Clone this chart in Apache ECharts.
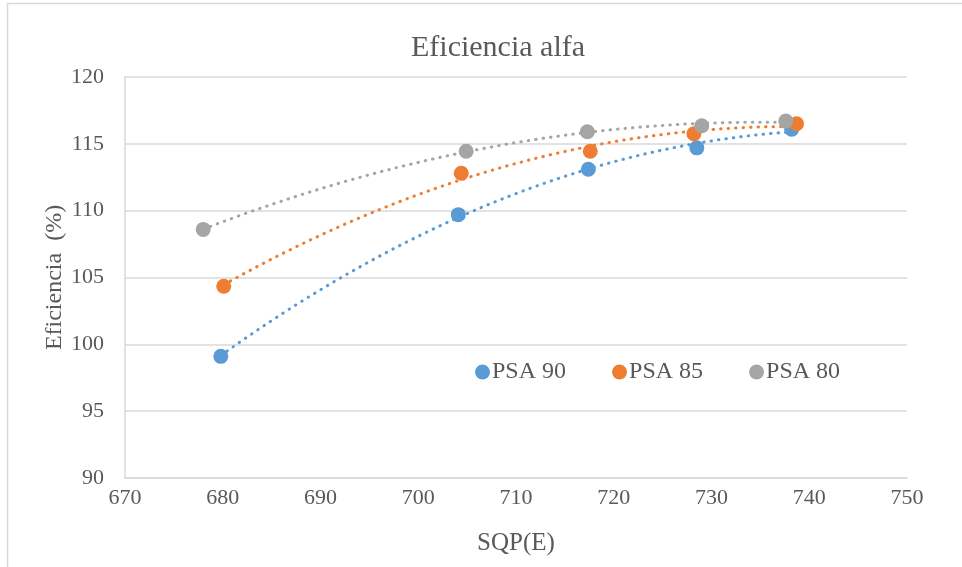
<!DOCTYPE html>
<html>
<head>
<meta charset="utf-8">
<script src="https://cdn.jsdelivr.net/npm/echarts@6/dist/echarts.min.js"></script>
<style>
  html, body { margin: 0; padding: 0; background: #ffffff; }
  #chart { width: 962px; height: 567px; }
</style>
</head>
<body>
<div id="chart"></div>
<script>
// Measured efficiency points for each PSA level
const psa90X = [679.8, 704.1, 717.4, 728.5, 738.2];
const psa90Y = [99.1, 109.7, 113.1, 114.7, 116.1];
const psa85X = [680.1, 704.4, 717.6, 728.2, 738.7];
const psa85Y = [104.35, 112.8, 114.45, 115.75, 116.5];
const psa80X = [678.0, 704.9, 717.3, 729.0, 737.6];
const psa80Y = [108.6, 114.45, 115.9, 116.35, 116.7];

const seriesNames = ['PSA 90', 'PSA 85', 'PSA 80'];
const seriesColors = ['#5B9BD5', '#ED7D31', '#A5A5A5'];

const xTicks = { min: 670, max: 750, step: 10 };
const yTicks = { min: 90, max: 120, step: 5 };

// Least-squares quadratic fit (order-2 trendline) through a set of points
function quadFit(xs, ys) {
  const n = xs.length;
  const x0 = xs.reduce((a, b) => a + b, 0) / n; // centre for numeric stability
  let s = [0, 0, 0, 0, 0], t = [0, 0, 0];
  for (let i = 0; i < n; i++) {
    const u = xs[i] - x0;
    let p = 1;
    for (let k = 0; k < 5; k++) { s[k] += p; p *= u; }
    p = 1;
    for (let k = 0; k < 3; k++) { t[k] += ys[i] * p; p *= u; }
  }
  const M = [[s[0], s[1], s[2], t[0]], [s[1], s[2], s[3], t[1]], [s[2], s[3], s[4], t[2]]];
  for (let c = 0; c < 3; c++) {
    let piv = c;
    for (let r = c + 1; r < 3; r++) if (Math.abs(M[r][c]) > Math.abs(M[piv][c])) piv = r;
    [M[c], M[piv]] = [M[piv], M[c]];
    for (let r = 0; r < 3; r++) {
      if (r === c) continue;
      const f = M[r][c] / M[c][c];
      for (let k = c; k < 4; k++) M[r][k] -= f * M[c][k];
    }
  }
  const a = M[0][3] / M[0][0], b = M[1][3] / M[1][1], cc = M[2][3] / M[2][2];
  return x => { const u = x - x0; return a + b * u + cc * u * u; };
}

function trendPoints(xs, ys) {
  const f = quadFit(xs, ys);
  const lo = Math.min(...xs), hi = Math.max(...xs);
  const pts = [];
  const steps = 80;
  for (let i = 0; i <= steps; i++) {
    const x = lo + (hi - lo) * i / steps;
    pts.push([x, f(x)]);
  }
  return pts;
}

const groups = [[psa90X, psa90Y], [psa85X, psa85Y], [psa80X, psa80Y]];

const serif = '"Liberation Serif", "Times New Roman", serif';
const textColor = '#595959';
const gridColor = '#D9D9D9';

const series = [];
// dotted trendlines first so markers sit above them
groups.forEach((g, i) => {
  series.push({
    name: seriesNames[i] + ' trend',
    type: 'line',
    data: trendPoints(g[0], g[1]),
    showSymbol: false,
    silent: true,
    z: 2,
    lineStyle: { color: seriesColors[i], width: 3, type: [0.5, 7], cap: 'round' }
  });
});
groups.forEach((g, i) => {
  series.push({
    name: seriesNames[i],
    type: 'scatter',
    data: g[0].map((x, k) => [x, g[1][k]]),
    symbol: 'circle',
    symbolSize: 15,
    z: 3,
    itemStyle: { color: seriesColors[i], opacity: 1 }
  });
});

const chart = echarts.init(document.getElementById('chart'), null, { renderer: 'canvas' });
chart.setOption({
  animation: false,
  backgroundColor: '#ffffff',
  title: {
    text: 'Eficiencia alfa',
    left: 406,
    top: 28,
    textStyle: { fontFamily: serif, fontSize: 30, fontWeight: 'normal', color: textColor }
  },
  legend: {
    data: seriesNames,
    left: 470,
    top: 355,
    icon: 'circle',
    itemWidth: 15,
    itemHeight: 15,
    itemGap: 46,
    textStyle: { fontFamily: serif, fontSize: 24, color: textColor, padding: [0, 0, 0, -3] }
  },
  grid: { left: 125, right: 55, top: 77, bottom: 89, containLabel: false },
  xAxis: {
    type: 'value',
    min: xTicks.min, max: xTicks.max, interval: xTicks.step,
    name: 'SQP(E)',
    nameLocation: 'middle',
    nameGap: 53,
    nameMoveOverlap: false,
    nameTextStyle: { fontFamily: serif, fontSize: 25, color: textColor },
    axisLine: { show: true, lineStyle: { color: gridColor, width: 1.5 } },
    axisTick: { show: false },
    splitLine: { show: false },
    axisLabel: { fontFamily: serif, fontSize: 22, color: textColor, margin: 9 }
  },
  yAxis: {
    type: 'value',
    min: yTicks.min, max: yTicks.max, interval: yTicks.step,
    name: 'Eficiencia  (%)',
    nameLocation: 'middle',
    nameGap: 58,
    nameRotate: 90,
    nameMoveOverlap: false,
    nameTextStyle: { fontFamily: serif, fontSize: 24, color: textColor },
    axisLine: { show: true, lineStyle: { color: gridColor, width: 1.5 } },
    axisTick: { show: false },
    splitLine: { show: true, lineStyle: { color: gridColor, width: 1.5 } },
    axisLabel: { fontFamily: serif, fontSize: 22, color: textColor, margin: 21 }
  },
  graphic: [
    { type: 'line', shape: { x1: 7.5, y1: 3.5, x2: 7.5, y2: 567 }, style: { stroke: gridColor, lineWidth: 1.5 }, silent: true },
    { type: 'line', shape: { x1: 7.5, y1: 3.5, x2: 962, y2: 3.5 }, style: { stroke: gridColor, lineWidth: 1.5 }, silent: true }
  ],
  series: series
});
</script>
</body>
</html>
